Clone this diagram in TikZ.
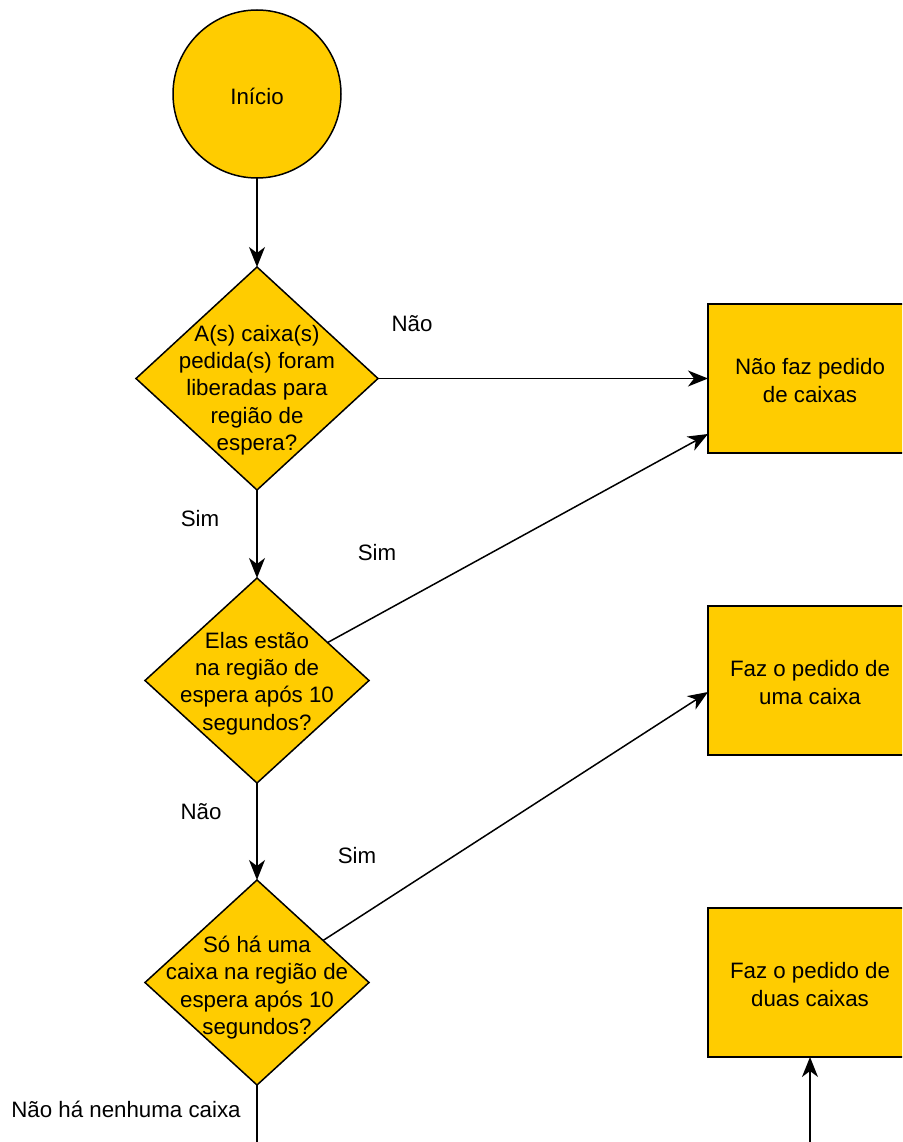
\documentclass[tikz,border=0pt]{standalone}
\usepackage{fontspec}
\setmainfont{Liberation Sans}
\usetikzlibrary{shapes.geometric,arrows.meta,calc}
\definecolor{boxfill}{HTML}{FFCC00}
\begin{document}
\begin{tikzpicture}[x=1pt,y=-1pt,
  every node/.style={font=\fontsize{22.3pt}{27.3pt}\selectfont, inner sep=0pt, outer sep=0pt},
  shapeline/.style={draw=black, line width=1.5pt, fill=boxfill},
  decision/.style={shapeline, diamond},
  actionbox/.style={shapeline, rectangle, minimum width=204pt, minimum height=149pt},
  startnode/.style={shapeline, circle, minimum size=168pt},
  flow/.style={line width=1.5pt, -{Stealth[length=20pt,width=16pt,inset=6pt]}},
  plain/.style={line width=1.5pt},
  caption/.style={align=center},
]
% page frame; the action boxes run past the right edge
\useasboundingbox (0,0) rectangle (902,1142);
\clip (0,0) rectangle (902,1142);

% start
\node[startnode, label={[caption,yshift=-2pt]center:Início}] (start) at (257,94) {};

% decisions
\node[decision, minimum width=242pt, minimum height=223pt,
  label={[caption,yshift=-11.5pt]center:{A(s) caixa(s)\\pedida(s) foram\\liberadas para\\região de\\espera?}}]
  (q1) at (257,378.5) {};
\node[decision, minimum width=224pt, minimum height=205pt,
  label={[caption,yshift=-3pt]center:{Elas estão\\na região de\\espera após 10\\segundos?}}]
  (q2) at (257,680.5) {};
\node[decision, minimum width=224pt, minimum height=205pt,
  label={[caption,yshift=-5pt]center:{Só há uma\\caixa na região de\\espera após 10\\segundos?}}]
  (q3) at (257,982.5) {};

% actions
\node[actionbox, label={[caption,yshift=-2pt]center:{Não faz pedido\\de caixas}}] (none) at (810,378.5) {};
\node[actionbox, label={[caption,yshift=-2pt]center:{Faz o pedido de\\uma caixa}}] (one) at (810,680.5) {};
\node[actionbox, label={[caption,yshift=-2pt]center:{Faz o pedido de\\duas caixas}}] (two) at (810,982.5) {};

% connectors
\draw[flow] (start.south) -- (q1.north);
\draw[flow] (q1.east) -- (none.west);
\draw[flow] (q1.south) -- (q2.north);
\draw[flow] (q2.south) -- (q3.north);
\coordinate (q2out) at ($(q2.north)!0.63!(q2.east)$);
\coordinate (nonein) at ($(none.west)+(0,55.5)$);
\draw[flow] (q2out) -- (nonein);
\coordinate (q3out) at ($(q3.north)!0.59!(q3.east)$);
\coordinate (onein) at ($(one.west)+(0,11.5)$);
\draw[flow] (q3out) -- (onein);
\coordinate (down) at (257,1150);
\draw[plain] (q3.south) -- (down);
\coordinate (up) at (810,1150);
\draw[flow] (up) -- (two.south);

% branch labels
\node (l1) at (412,324) {Não};
\node (l2) at (200,519) {Sim};
\node (l3) at (377,553) {Sim};
\node (l4) at (201,812) {Não};
\node (l5) at (357,856) {Sim};
\node (l6) at (126,1109) {Não há nenhuma caixa};
\end{tikzpicture}
\end{document}
